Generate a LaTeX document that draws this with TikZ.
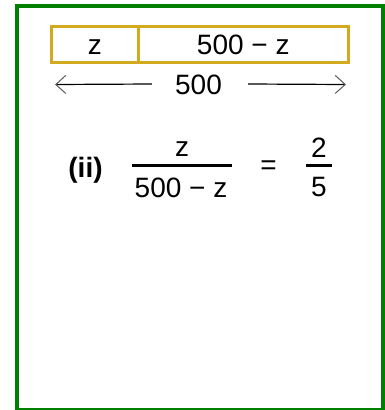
\documentclass[tikz,border=0pt]{standalone}
\usepackage{fontspec}
\setmainfont{Liberation Sans}
\usepackage{xcolor}
\usepackage{tikz}
\usetikzlibrary{arrows.meta, positioning}
\definecolor{frameGreen}{RGB}{0, 128, 0}
\definecolor{barGold}{RGB}{210, 170, 30}
\definecolor{tipGray}{RGB}{90, 90, 90}

\begin{document}
\begin{tikzpicture}[
    x=1pt, y=-1pt,
    font=\fontsize{28}{33}\selectfont,
    frameBox/.style={draw=frameGreen, line width=4pt},
    segBox/.style={draw=barGold, line width=3pt, outer sep=0pt, inner sep=0pt, minimum height=36pt, text height=20pt, text depth=0pt},
    spanText/.style={inner sep=0pt, text height=20pt, text depth=0pt},
    txt/.style={inner sep=0pt, anchor=base},
    spanArrow/.style={-{Straight Barb[length=10pt, width=18pt, line width=1pt, color=tipGray]}, line width=1.2pt},
    fracBar/.style={line width=3pt}
]
    \useasboundingbox (0,0) rectangle (385,410);

    % Frame
    \draw[frameBox] (17,6) rectangle (383,410);

    % Segment bar
    \node[segBox, minimum width=86.5pt] (zpart) at (94.75,44) {z};
    \node[segBox, minimum width=210.5pt, right=0pt of zpart] (restpart) {500 − z};

    % Total length
    \node[spanText] (span) at (198.5,84) {500};
    \coordinate (leftEnd) at (55,84.5);
    \coordinate (rightEnd) at (346,84.5);
    \draw[spanArrow] ([xshift=-23pt]span.west) -- (leftEnd);
    \draw[spanArrow] ([xshift=26pt]span.east) -- (rightEnd);

    % Ratio
    \node[txt, font=\fontsize{28}{33}\selectfont\bfseries] (part) at (85.5,177) {(ii)};
    \node[txt] (num) at (182,156) {z};
    \node[txt] (den) at (181,197) {500 − z};
    \draw[fracBar] (132,165) -- (232,165);
    \node[txt] (eq) at (268.5,174) {=};
    \node[txt] (two) at (319,157) {2};
    \node[txt] (five) at (319,196.5) {5};
    \draw[fracBar] (306,165) -- (332,165);

\end{tikzpicture}
\end{document}
